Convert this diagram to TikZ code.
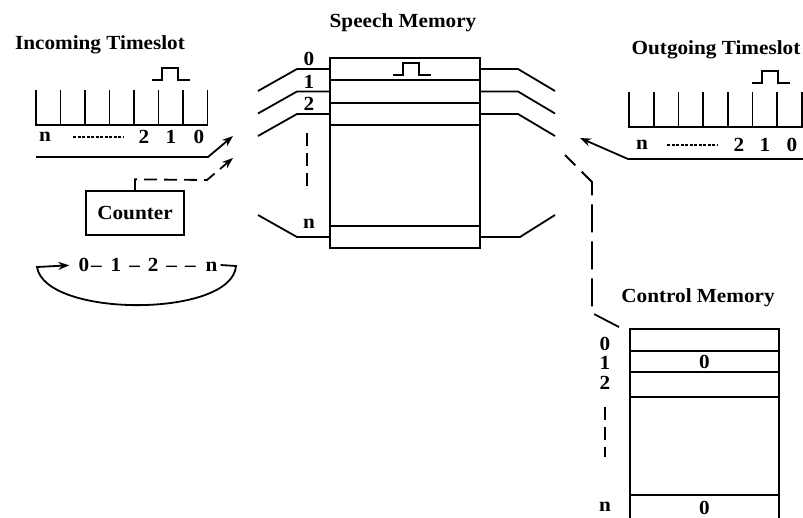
\documentclass[tikz,border=0pt]{standalone}
\usepackage{fontspec}
\setmainfont{Liberation Serif}[FakeStretch=1.06]
\usepackage{tikz}
\usetikzlibrary{positioning, arrows.meta}
\tikzset{
	rownode/.style={
			draw=black,
			line width=1.5pt,
			minimum width=150pt,
			minimum height=22pt,
			inner sep=0pt,
			outer sep=0pt
		},
	tagnode/.style={
			inner sep=0pt
		},
	boxnode/.style={
			draw=black,
			line width=1.3pt,
			minimum width=98pt,
			minimum height=44pt,
			inner sep=0pt
		},
	wire/.style={
			line width=1.8pt
		},
	ctrlwire/.style={
			wire,
			dash pattern=on 13pt off 7pt
		},
	dotwire/.style={
			line width=1.2pt,
			dash pattern=on 3pt off 1.5pt
		},
	sendarrow/.style={
			-{Stealth[length=11pt,width=8pt]}
		},
	pulse/.pic={
			\draw[line width=1.4pt] (-19,0) -- (-9,0) -- (-9,-12) -- (7,-12) -- (7,0) -- (19,0);
		}
}

\begin{document}
\begin{tikzpicture}[x=1pt, y=-1pt, font=\bfseries\fontsize{20}{22}\selectfont]
	\useasboundingbox (0,0) rectangle (803,517);
	\clip (0,0) rectangle (803,517);

	% speech memory
	\node[tagnode] (smtitle) at (403,23) {Speech Memory};
	\node[rownode] (r0) at (405,69) {};
	\node[rownode, minimum height=23pt, below=0pt of r0] (r1) {};
	\node[rownode, below=0pt of r1] (r2) {};
	\node[rownode, minimum height=101pt, below=0pt of r2] (rbody) {};
	\node[rownode, below=0pt of rbody] (rn) {};
	\pic at (412,75) {pulse};
	\node[tagnode] (s0) at (309,59) {0};
	\node[tagnode] (s1) at (309,82) {1};
	\node[tagnode] (s2) at (309,104) {2};
	\node[tagnode] (sn) at (309,224) {n};
	\draw[ctrlwire] (307,133) -- (307,187);
	\foreach \rw in {r0,r1,r2} {
		\draw[wire] (\rw.west) -- ++(-33,0) -- ++(-39,22);
		\draw[wire] (\rw.east) -- ++(38,0) -- ++(37,22);
	}
	\draw[wire] (rn.west) -- ++(-33,0) -- ++(-39,-22);
	\draw[wire] (rn.east) -- ++(40,0) -- ++(35,-22);

	% incoming timeslot
	\node[tagnode] (intitle) at (100,45) {Incoming Timeslot};
	\pic at (171,80) {pulse};
	\draw[wire] (36,90) |- (207.5,125) -- (207.5,90);
	\foreach \i in {1,...,6}
		\draw[wire] ({36+24.5*\i},90) -- ++(0,35);
	\node[tagnode] (inn) at (45,137) {n};
	\draw[dotwire] (73,137) -- (123,137);
	\node[tagnode] (in2) at (144,137) {2};
	\node[tagnode] (in1) at (171,137) {1};
	\node[tagnode] (in0) at (199,137) {0};
	\draw[wire, sendarrow] (36,157) -- (208,157) -- (233,136);

	% counter
	\node[boxnode] (counter) at (135,213) {Counter};
	\draw[ctrlwire, sendarrow] (counter.north) -- ++(0,-11) -- (207,180) -- (233,158);
	\node[tagnode, inner sep=3pt] (seq) at (148,265) {0\hspace{2pt}--\hspace{9pt}1\hspace{8pt}--\hspace{8pt}2\hspace{8pt}--\hspace{8pt}--\hspace{10pt}n};
	\draw[wire, sendarrow, shorten >=6pt] (seq.east) -- (236,266) .. controls (232,318) and (45,318) .. (37,267) -- (seq.west);

	% outgoing timeslot
	\node[tagnode] (outtitle) at (716,50) {Outgoing Timeslot};
	\pic at (771,83) {pulse};
	\draw[wire] (629,92) |- (801.9,127) -- (801.9,92);
	\foreach \i in {1,...,6}
		\draw[wire] ({629+24.7*\i},92) -- ++(0,35);
	\node[tagnode] (outn) at (642,145) {n};
	\draw[dotwire] (667,145) -- (717,145);
	\node[tagnode] (out2) at (739,145) {2};
	\node[tagnode] (out1) at (765,145) {1};
	\node[tagnode] (out0) at (792,145) {0};
	\draw[wire, sendarrow] (803,159) -- (628,159) -- (580,138);

	% control memory
	\node[tagnode] (cmtitle) at (698,298) {Control Memory};
	\node[rownode, minimum width=149pt] (c0) at (704.5,340) {};
	\node[rownode, minimum width=149pt, minimum height=21pt, below=0pt of c0] (c1) {0};
	\node[rownode, minimum width=149pt, minimum height=25pt, below=0pt of c1] (c2) {};
	\node[rownode, minimum width=149pt, minimum height=98pt, below=0pt of c2] (cbody) {};
	\node[rownode, minimum width=149pt, minimum height=25pt, below=0pt of cbody] (cn) {0};
	\node[tagnode] (t0) at (605,344) {0};
	\node[tagnode] (t1) at (605,363) {1};
	\node[tagnode] (t2) at (605,383) {2};
	\node[tagnode] (tn) at (605,507) {n};
	\draw[ctrlwire] (605,407) -- (605,457);
	\coordinate (ctl) at (619,327);
	\draw[wire, dash pattern=on 28pt off 9pt] (ctl) -- (592,313) -- (592,182) -- (565,155);
\end{tikzpicture}
\end{document}
